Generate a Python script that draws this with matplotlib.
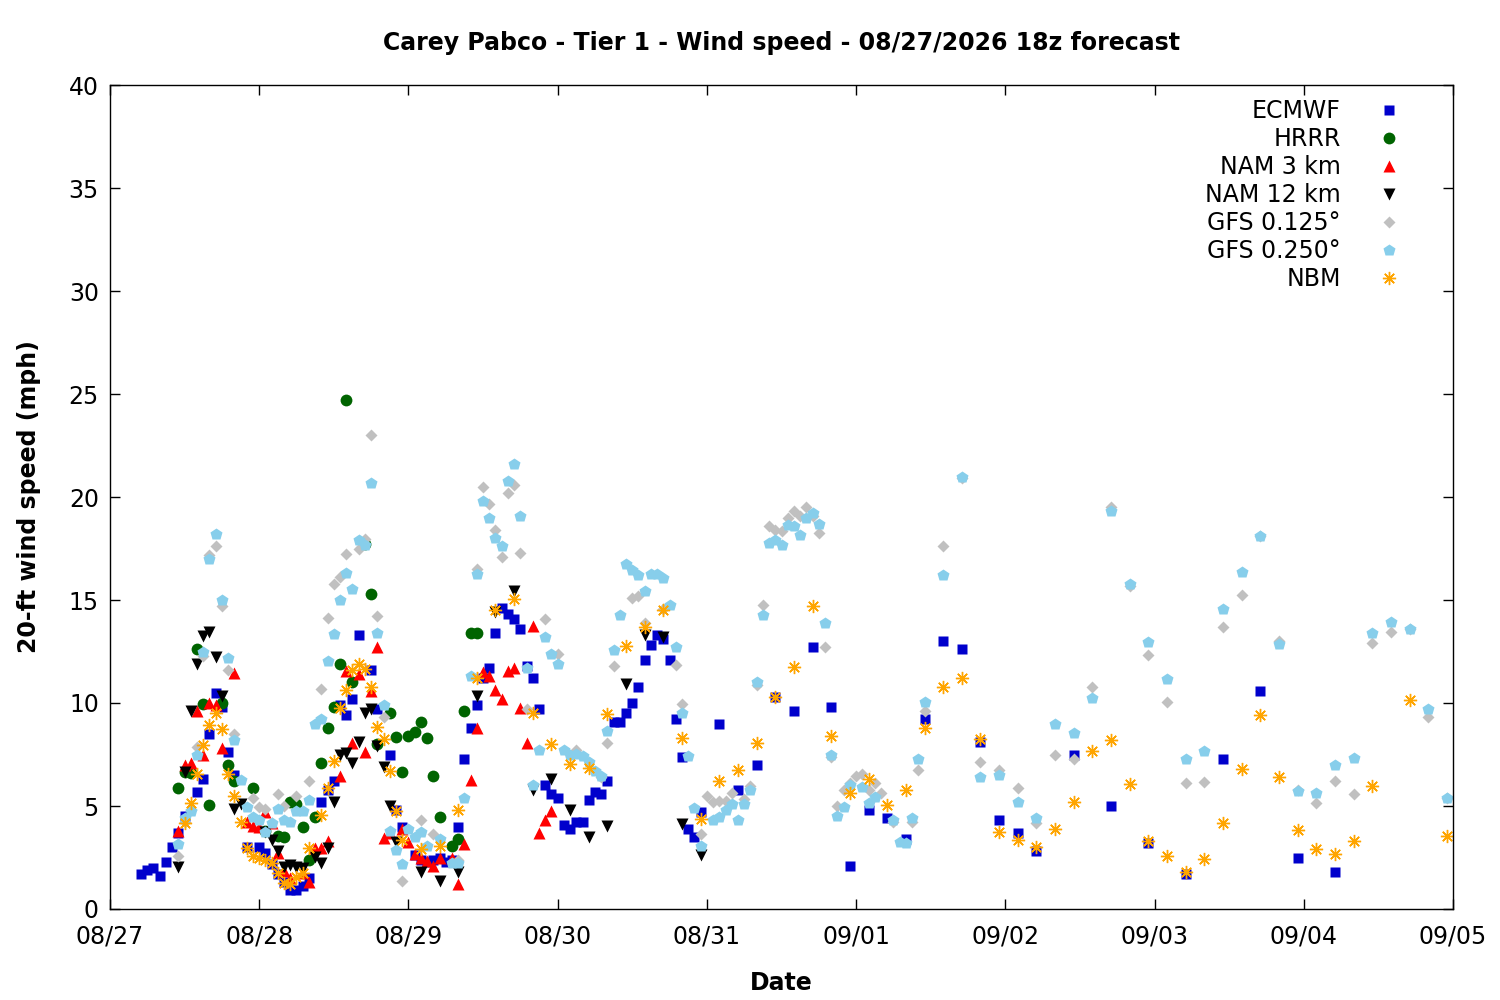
import matplotlib
matplotlib.use('Agg')
import matplotlib.pyplot as plt

# hours since 08/27 00z
ecmwf_h = [5, 6, 7, 8, 9, 10, 11, 12, 14, 15, 16, 17, 18, 19, 20, 22,
           24, 25, 26, 27, 28, 29, 30, 31, 32, 34, 35, 36, 37, 38, 39, 40,
           42, 43, 45, 46, 47, 49, 50, 51, 52, 53, 54, 55, 56, 57, 58, 59,
           60, 61, 62, 63, 64, 65, 66, 67, 68, 69, 70, 71, 72, 73, 74, 75,
           76, 77, 78, 79, 80, 81, 82, 83, 84, 85, 86, 87, 88, 89, 90, 91,
           92, 93, 94, 95, 98, 101, 104, 107, 110, 113, 116, 119, 122, 125,
           128, 131, 134, 137, 140, 143, 146, 149, 155, 161, 167, 173, 179,
           185, 191, 197]
ecmwf_v = [1.7, 1.9, 2.0, 1.6, 2.3, 3.0, 3.7, 4.5, 5.7, 6.3, 8.5, 10.5, 9.8,
           7.6, 6.5, 3.0, 3.0, 2.7, 2.2, 1.7, 1.3, 0.9, 0.9, 1.1, 1.5, 5.2,
           5.8, 6.2, 9.9, 9.4, 10.2, 13.3, 11.6, 9.7, 7.5, 4.8, 4.0, 2.6, 2.4,
           2.3, 2.4, 2.5, 2.3, 2.4, 4.0, 7.3, 8.8, 9.9, 11.2, 11.7, 13.4,
           14.6, 14.3, 14.1, 13.6, 11.8, 11.2, 9.7, 6.0, 5.6, 5.4, 4.1, 3.9,
           4.2, 4.2, 5.3, 5.7, 5.6, 6.2, 9.1, 9.1, 9.5, 10.0, 10.8, 12.1,
           12.8, 13.3, 13.1, 12.1, 9.2, 7.4, 3.9, 3.5, 4.7, 9.0, 5.8, 7.0,
           10.3, 9.6, 12.7, 9.8, 2.1, 4.8, 4.4, 3.4, 9.2, 13.0, 12.6, 8.1,
           4.3, 3.7, 2.8, 7.5, 5.0, 3.2, 1.7, 7.3, 10.6, 2.5, 1.8]

hrrr_h = [11, 12, 13, 14, 15, 16, 18, 19, 20, 23, 25, 27, 28, 29, 30, 31,
          32, 33, 34, 35, 36, 37, 38, 39, 41, 42, 43, 45, 46, 47, 48, 49,
          50, 51, 52, 53, 55, 56, 57, 58, 59]
hrrr_v = [5.85, 6.64, 6.6, 12.64, 9.94, 5.07, 10.0, 7.0, 6.2, 5.85, 3.8,
          3.56, 3.48, 5.2, 5.1, 4.0, 2.4, 4.46, 7.1, 8.8, 9.8, 11.9, 24.7,
          11.0, 17.7, 15.3, 8.0, 9.5, 8.35, 6.67, 8.41, 8.58, 9.1, 8.3, 6.44,
          4.45, 3.04, 3.4, 9.6, 13.4, 13.38]

nam3_h = [11, 12, 13, 14, 15, 16, 17, 18, 20, 22, 23, 24, 25, 26, 27, 28,
          29, 31, 32, 33, 34, 35, 37, 38, 39, 40, 41, 42, 43, 44, 45, 47,
          48, 49, 50, 51, 52, 53, 55, 56, 57, 58, 59, 60, 61, 62, 63, 64,
          65, 66, 67, 68, 69, 70, 71]
nam3_v = [3.8, 7.0, 7.1, 9.6, 7.5, 10.0, 9.9, 7.8, 11.45, 4.2, 4.05, 4.0,
          4.7, 4.17, 2.7, 1.84, 1.5, 1.76, 1.3, 2.97, 2.97, 3.28, 6.47,
          11.57, 8.06, 11.4, 7.6, 10.57, 12.73, 3.47, 3.7, 3.87, 3.24, 2.67,
          2.5, 2.35, 2.1, 2.5, 2.5, 1.2, 3.15, 6.26, 8.8, 11.5, 11.3, 10.65,
          10.2, 11.57, 11.7, 9.77, 8.06, 13.75, 3.7, 4.3, 4.77]

nam12_h = [11, 12, 13, 14, 15, 16, 17, 18, 20, 21, 25, 26, 27, 28, 29, 30,
           31, 33, 34, 35, 36, 37, 38, 39, 40, 41, 42, 43, 44, 45, 46, 50,
           53, 56, 59, 62, 65, 68, 71, 74, 77, 80, 83, 86, 89, 92, 95]
nam12_v = [2.05, 6.64, 9.6, 11.87, 13.27, 13.46, 12.23, 10.35, 4.87, 5.1,
           3.72, 3.35, 2.8, 2.03, 2.14, 2.05, 1.98, 2.54, 2.25, 2.97, 5.2,
           7.5, 7.55, 7.1, 8.1, 9.53, 9.7, 7.9, 6.9, 5.0, 3.27, 1.78, 1.37,
           1.78, 10.36, 14.4, 15.45, 5.8, 6.3, 4.8, 3.5, 4.05, 10.9, 13.3,
           13.2, 4.13, 2.6]

gfs125_h = [11, 12, 13, 14, 15, 16, 17, 18, 19, 20, 23, 24, 25, 27, 28, 30,
            32, 34, 35, 36, 37, 38, 40, 41, 42, 43, 44, 47, 50, 52, 56, 59,
            60, 61, 62, 63, 64, 65, 66, 67, 70, 72, 75, 79, 80, 81, 84, 85,
            86, 89, 91, 92, 95, 96, 97, 98, 99, 100, 102, 103, 104, 105, 106,
            107, 108, 109, 110, 111, 112, 113, 114, 115, 116, 117, 118, 119,
            120, 121, 122, 123, 124, 126, 129, 130, 131, 134, 137, 140, 143,
            146, 149, 152, 155, 158, 161, 164, 167, 170, 173, 176, 179, 182,
            185, 188, 191, 194, 197, 200, 203, 206, 209, 212, 215]
gfs125_v = [2.55, 4.2, 4.8, 7.85, 12.3, 17.2, 17.6, 14.7, 11.6, 8.5, 5.4,
            4.95, 4.87, 5.57, 5.0, 5.5, 6.2, 10.67, 14.15, 15.8, 16.1, 17.24,
            17.5, 17.96, 23.0, 14.2, 9.3, 1.35, 4.32, 3.64, 2.4, 16.5, 20.47,
            19.64, 18.4, 17.1, 20.2, 20.6, 17.3, 9.7, 14.08, 12.38, 7.73, 6.4,
            8.06, 11.8, 15.1, 15.2, 13.9, 14.55, 11.85, 9.95, 3.64, 5.49, 5.2,
            5.26, 5.26, 5.65, 5.32, 5.97, 10.87, 14.74, 18.6, 18.4, 18.37,
            18.97, 19.3, 19.1, 19.5, 19.1, 18.27, 12.7, 7.4, 5.0, 5.78, 6.13,
            6.46, 6.55, 5.78, 6.1, 5.65, 4.24, 4.24, 6.75, 9.63, 17.6, 20.9,
            7.12, 6.75, 5.86, 4.19, 7.5, 7.3, 10.76, 19.5, 15.7, 12.33, 10.03,
            6.1, 6.15, 13.67, 15.24, 18.1, 13.0, 5.8, 5.13, 6.21, 5.57, 12.9,
            13.43, 13.6, 9.3, 5.37]

gfs250_h = [11, 12, 13, 14, 15, 16, 17, 18, 19, 20, 21, 22, 23, 24, 25, 26,
            27, 28, 29, 30, 31, 32, 33, 34, 35, 36, 37, 38, 39, 40, 41, 42,
            43, 44, 45, 46, 47, 48, 49, 50, 51, 53, 55, 56, 57, 58, 59, 60,
            61, 62, 63, 64, 65, 66, 67, 68, 69, 70, 71, 72, 73, 74, 75, 76,
            77, 78, 79, 80, 81, 82, 83, 84, 85, 86, 87, 88, 89, 90, 91, 92,
            93, 94, 95, 97, 98, 99, 100, 101, 102, 103, 104, 105, 106, 107,
            108, 109, 110, 111, 112, 113, 114, 115, 116, 117, 118, 119, 121,
            122, 123, 126, 127, 128, 129, 130, 131, 134, 137, 140, 143, 146,
            149, 152, 155, 158, 161, 164, 167, 170, 173, 176, 179, 182, 185,
            188, 191, 194, 197, 200, 203, 206, 209, 212, 215]
gfs250_v = [3.15, 4.4, 4.75, 7.46, 12.5, 17.0, 18.2, 15.0, 12.2, 8.2, 6.26,
            4.95, 4.46, 4.3, 3.75, 4.17, 4.87, 4.3, 4.2, 4.75, 4.75, 5.28,
            8.96, 9.2, 12.04, 13.35, 15.0, 16.3, 15.55, 17.9, 17.66, 20.7,
            13.4, 9.9, 3.78, 2.86, 2.2, 3.9, 3.48, 3.72, 3.04, 3.4, 2.23, 2.23,
            5.37, 11.3, 16.26, 19.8, 19.0, 18.0, 17.6, 20.76, 21.6, 19.1, 11.7,
            6.0, 7.72, 13.2, 12.38, 11.88, 7.72, 7.48, 7.52, 7.44, 7.12, 6.72,
            6.47, 8.66, 12.57, 14.27, 16.75, 16.46, 16.2, 15.45, 16.26, 16.26,
            16.05, 14.76, 12.7, 9.5, 7.44, 4.9, 3.04, 4.32, 4.45, 4.8, 5.1,
            4.32, 5.1, 5.78, 11.0, 14.25, 17.75, 17.9, 17.65, 18.64, 18.6,
            18.14, 19.0, 19.2, 18.7, 13.87, 7.5, 4.5, 4.97, 6.0, 5.94, 5.13,
            5.45, 4.32, 3.27, 3.22, 4.4, 7.27, 10.06, 16.2, 20.95, 6.39, 6.5,
            5.2, 4.4, 8.96, 8.53, 10.23, 19.3, 15.78, 12.94, 11.15, 7.27, 7.67,
            14.55, 16.38, 18.1, 12.85, 5.74, 5.61, 6.99, 7.31, 13.38, 13.95,
            13.58, 9.69, 5.4]

nbm_h = [12, 13, 14, 15, 16, 17, 18, 19, 20, 21, 22, 23, 24, 25, 26, 27, 28,
         29, 30, 31, 32, 34, 35, 36, 37, 38, 39, 40, 41, 42, 43, 44, 45, 46,
         47, 50, 53, 56, 59, 62, 65, 68, 71, 74, 77, 80, 83, 86, 89, 92, 95,
         98, 101, 104, 107, 110, 113, 116, 119, 122, 125, 128, 131, 134, 137,
         140, 143, 146, 149, 152, 155, 158, 161, 164, 167, 170, 173, 176, 179,
         182, 185, 188, 191, 194, 197, 200, 203, 209, 215]
nbm_v = [4.18, 5.16, 6.54, 7.98, 8.93, 9.52, 8.72, 6.55, 5.5, 4.2, 2.95, 2.58,
         2.5, 2.4, 2.22, 1.73, 1.27, 1.22, 1.56, 1.73, 2.97, 4.54, 5.85, 7.2,
         9.78, 10.63, 11.6, 11.9, 11.63, 10.8, 8.85, 8.23, 6.7, 4.75, 3.36,
         2.9, 3.04, 4.8, 11.2, 14.5, 15.05, 9.5, 8.0, 7.04, 6.83, 9.45, 12.75,
         13.7, 14.5, 8.3, 4.37, 6.2, 6.75, 8.04, 10.3, 11.73, 14.7, 8.4, 5.65,
         6.3, 5.05, 5.78, 8.77, 10.8, 11.2, 8.24, 3.72, 3.35, 3.03, 3.88, 5.18,
         7.67, 8.2, 6.07, 3.3, 2.57, 1.78, 2.43, 4.16, 6.78, 9.4, 6.39, 3.83,
         2.9, 2.65, 3.3, 5.99, 10.15, 3.56]

date_labels = ['08/27', '08/28', '08/29', '08/30', '08/31', '09/01',
               '09/02', '09/03', '09/04', '09/05']

plt.rcParams['font.family'] = 'DejaVu Sans'
fig = plt.figure(figsize=(15, 10), dpi=100)
ax = fig.add_axes([0.0733, 0.091, 0.8954, 0.824])

ax.plot(ecmwf_h, ecmwf_v, ls='none', marker='s', ms=7, color='#0000cc',
        mec='none', label='ECMWF')
ax.plot(hrrr_h, hrrr_v, ls='none', marker='o', ms=8.5, color='#006400',
        mec='none', label='HRRR')
ax.plot(nam3_h, nam3_v, ls='none', marker='^', ms=9, color='red',
        mec='none', label='NAM 3 km')
ax.plot(nam12_h, nam12_v, ls='none', marker='v', ms=9, color='black',
        mec='none', label='NAM 12 km')
ax.plot(gfs125_h, gfs125_v, ls='none', marker='D', ms=6.5, color='#c0c0c0',
        mec='none', label='GFS 0.125°')
ax.plot(gfs250_h, gfs250_v, ls='none', marker='p', ms=9, color='#87ceeb',
        mec='none', label='GFS 0.250°')
ax.plot(nbm_h, nbm_v, ls='none', marker=(8, 2, 0), ms=9.5, color='orange',
        mec='orange', mew=1.0, label='NBM')

ax.set_xlim(0, 216)
ax.set_ylim(0, 40)
ax.set_xticks(range(0, 217, 24))
ax.set_xticklabels(date_labels)
ax.set_yticks(range(0, 41, 5))
ax.tick_params(direction='in', length=7, width=1, top=True, right=True,
               labelsize=17)
ax.tick_params(axis='x', pad=11)
ax.tick_params(axis='y', pad=8)
for s in ax.spines.values():
    s.set_linewidth(1)

ax.set_title('Carey Pabco - Tier 1 - Wind speed - 08/27/2026 18z forecast',
             fontsize=17, fontweight='bold', pad=25)
ax.set_xlabel('Date', fontsize=17, fontweight='bold', labelpad=16)
ax.set_ylabel('20-ft wind speed (mph)', fontsize=17, fontweight='bold',
              labelpad=20)

leg = ax.legend(loc='upper right', markerfirst=False, frameon=False,
                fontsize=17, handlelength=2.0, handletextpad=1.05,
                labelspacing=0.17, borderaxespad=0.0, borderpad=0.4,
                bbox_to_anchor=(0.977, 0.994), numpoints=1)
vp = leg._legend_box._children[-1]._children[0]
vp.align = 'right'

fig.savefig('out.png', dpi=100)
